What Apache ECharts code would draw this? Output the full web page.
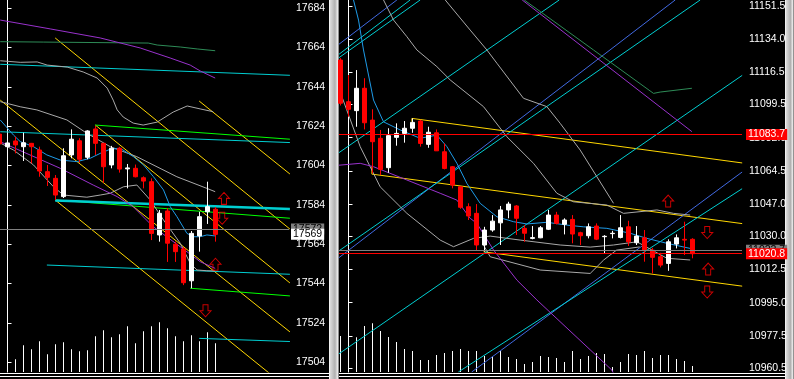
<!DOCTYPE html>
<html><head><meta charset="utf-8">
<script src="https://cdn.jsdelivr.net/npm/echarts@6/dist/echarts.min.js"></script>
<style>html,body{margin:0;padding:0;background:#000;}#c{width:794px;height:379px;}</style>
</head><body><div id="c"></div>
<script>
// ---------- LEFT PANEL DATA ----------
const leftStart = -1; // bar index of first candle
const leftOHLC = [ // [open, close, low, high]
 [17620,17615,17613,17621],[17613.6,17615.5,17612,17617],[17616.5,17614.5,17610.2,17618.7],[17613.6,17615.6,17606.3,17620.7],
 [17615.3,17613.6,17605.1,17615.5],[17611.9,17601.2,17598.3,17613.6],[17600.9,17598,17593.6,17604.3],[17597.5,17589,17586.5,17599.2],
 [17588.2,17609,17587.5,17612.8],[17609.4,17617.4,17607.7,17622.4],[17616.6,17607.2,17605.5,17617.9],[17608.2,17621.6,17607.2,17622],
 [17622.6,17615.3,17609.4,17624.1],[17615.3,17603.4,17595.3,17615.5],[17604.3,17612.8,17602.6,17614],[17612.8,17602.2,17600.4,17613.5],
 [17602.3,17602.8,17592.4,17604.8],[17602.6,17598.3,17598,17604.5],[17597.8,17596.1,17592.4,17598.5],[17595.8,17569.5,17566.1,17597.5],
 [17568.7,17579.7,17565.3,17581.4],[17580.9,17564.5,17555,17582.3],[17564,17560.2,17555,17565.3],[17561.6,17544.4,17543.2,17562.6],
 [17545.4,17569.5,17541.6,17570.7],[17568.2,17578,17560.2,17580.5],[17580.5,17583.1,17574.3,17595.8],[17581.8,17569,17565.3,17582.9]
];
const leftVolStart = 0;
const leftVolume = [167,127,267,227,307,177,277,297,227,207,217,357,417,347,377,457,287,407,457,497,437,357,307,367,307,397,287];
const leftTicks = [17684,17664,17644,17624,17604,17584,17564,17544,17524,17504];
const leftAsk = 17571.7, leftBid = 17569;

const leftMA = [[-0.91,17627.2],[0.75,17619.5],[1.59,17616.2],[3.25,17613.6],[4.92,17609.4],[6.59,17606.8],[8.67,17606.0],[10.34,17607.7],[11.59,17610.2],[12.84,17612.3],[14.09,17612.8],[15.75,17608.5],[17.0,17604.3],[18.25,17598.3],[19.5,17591.6],[20.34,17583.1],[21.18,17578.0],[22.43,17569.5],[23.25,17567.8],[24.09,17567.8],[24.92,17568.7],[25.96,17568.2]];
const leftPurpleFast = [[-0.91,17616.1],[6.59,17602.6],[10.71,17594.1],[13.71,17588.2],[15.71,17583.1],[18.21,17572.9],[21.59,17562.7],[24.09,17555.1],[25.96,17551.7]];
const leftPurpleSlow = [[-0.91,17678.0],[5.34,17673.5],[11.59,17668.9],[16.59,17663.8],[20.34,17658.7],[22.84,17655.1],[24.09,17652.1],[25.96,17648.5]];
const leftDarkGreen = [[-0.91,17667.0],[4.46,17666.8],[17.59,17666.3],[18.71,17665.3],[21.59,17664.3],[23.71,17663.3],[25.96,17662.4]];
const leftBandUp = [[-0.91,17657.3],[1.59,17656.5],[3.71,17656.7],[4.96,17655.1],[7.46,17654.1],[9.46,17651.6],[11.21,17648.5],[12.46,17643.4],[13.21,17637.3],[13.71,17632.3],[14.46,17628.7],[15.71,17625.6],[16.96,17624.6],[18.71,17626.1],[20.71,17631.2],[22.46,17634.3],[24.09,17632.8],[25.71,17631.4]];
const leftBandMid = [[-0.91,17636.5],[1.59,17633.9],[3.67,17632.3],[7.42,17627.2],[9.92,17620.4],[12.84,17613.6],[16.17,17608.5],[21.17,17598.3],[24.92,17592.4],[25.96,17590.7]];
const leftBandLow = [[-0.91,17615.5],[0.75,17611.9],[3.25,17604.3],[5.75,17593.2],[7.0,17589.0],[9.92,17587.9],[11.59,17589.0],[12.84,17589.9],[14.5,17593.2],[16.17,17594.1],[17.84,17586.5],[19.5,17576.3],[21.59,17564.5],[22.84,17554.3],[23.68,17550.9],[24.92,17550.5],[25.96,17550.4]];
const leftYellow = [
 [[5.96,17668.9],[35.3,17571.7]],
 [[10.98,17624.6],[35.3,17544.3]],
 [[23.96,17636.8],[35.3,17599.7]],
 [[-0.91,17637.3],[35.3,17519.4]],
 [[5.96,17586.5],[35.3,17489.9]]
];
const leftGreen = [
 [[10.96,17624.6],[35.3,17617.4]],
 [[5.96,17586.5],[35.3,17577.2]],
 [[22.84,17541.6],[35.3,17537.7]]
];
const leftCyan = [
 [[-0.91,17655.5],[35.3,17649.9]],
 [[-0.91,17621.2],[35.3,17615.7]],
 [[4.92,17553.4],[35.3,17548.7]],
 [[23.96,17516.1],[35.3,17514.5]]
];
const leftCyanThick = [[5.96,17586.2],[35.3,17581.9]];
const leftArrowsUp = [[27.06,17587.3],[26.0,17553.8]];
const leftArrowsDown = [[26.84,17577.2],[24.75,17530.1]];

// ---------- RIGHT PANEL DATA ----------
const rightStart = -1;
const rightOHLC = [
 [11123,11100.2,11099,11124],[11101,11097,11093.1,11115.1],[11096.3,11108.1,11087.8,11117.7],[11108.1,11089.9,11086.4,11113.4],
 [11091.3,11079.9,11063.2,11097],[11081.7,11065.3,11062.3,11086.1],[11066.2,11083.1,11063.5,11087],[11082.2,11084.3,11077.8,11089.6],
 [11084.3,11087,11079.4,11090.8],[11087,11090.1,11084.6,11092.2],[11090.8,11079,11077.3,11091.5],[11078.5,11084.9,11076.7,11087.8],
 [11084.6,11075.1,11075,11086.4],[11074.6,11065.8,11065.3,11079],[11066.7,11057,11055.3,11067.1],[11056.1,11045.3,11044.5,11056.5],
 [11045.6,11040.7,11038.6,11047.4],[11042.1,11025.4,11022.7,11047],[11025.4,11033.3,11021.9,11035],[11033.3,11038,11032.4,11041.2],
 [11037.1,11043.9,11025.4,11046],[11043.9,11047,11039.5,11048.2],[11046,11039.5,11030.7,11046.5],[11034.2,11031.6,11027.1,11035.9],
 [11028.9,11029.3,11028.4,11035.4],[11029.2,11034.5,11029,11035.4],[11033.7,11041.2,11033.3,11043.9],[11041.2,11036.8,11036.3,11042.9],
 [11036.3,11038.6,11031,11039.5],[11038.9,11031.2,11026.3,11041.2],[11031.9,11030.3,11025.4,11032.4],[11030.3,11035,11028.9,11036.8],
 [11035.4,11028.5,11028,11036.8],[11029.8,11030,11020.9,11030.6],[11031.4,11031.6,11028.9,11032.9],[11029.4,11034.5,11028.9,11041.2],
 [11035,11027.1,11024.9,11038.2],[11026.6,11030.1,11025.4,11035.4],[11029.2,11022.7,11016.6,11033.3],[11022.7,11018.9,11010.4,11023.9],
 [11019.2,11014.8,11013.6,11021.3],[11015.7,11027.1,11011.8,11028.4],[11025.9,11029.2,11023.6,11031],[11028.4,11028,11020.1,11037.7],
 [11028.4,11020.8,11018.4,11029]
];
const rightVolStart = -1;
const rightVolume = [360,370,347,460,487,410,350,300,230,210,120,120,170,190,210,230,210,210,160,150,210,150,130,80,100,160,150,140,100,210,130,160,190,180,50,100,180,170,210,140,170,170,130,110,60];
const rightTicks = [11151.5,11134.0,11116.5,11099.5,11082.0,11064.5,11047.0,11030.0,11012.5,10995.0,10977.5,10960.5];
const rightAsk = 11022.7, rightBid = 11020.8, rightLevel = 11083.7;

const rightMA = [[0.3,11160],[0.625,11154.7],[1.25,11144.1],[1.875,11128.3],[3.125,11101.9],[4.375,11090.4],[6.46,11086.1],[8.96,11081.7],[11.05,11083.4],[12.3,11077.3],[13.55,11068.5],[14.8,11057.9],[16.46,11047.4],[18.55,11040.3],[20.625,11037.7],[22.3,11036.5],[24.8,11037.4],[27.3,11035.9],[29.375,11035.0],[32.3,11034.2],[35.21,11031.6],[37.3,11028.9],[39.8,11026.3],[42.71,11023.6],[43,11023.3]];
const rightPurpleFast = [[-1.2,11067.5],[1.46,11068.5],[3.125,11066.7],[7.3,11059.7],[11.46,11052.7],[13.55,11049.1],[15.21,11039.5],[16.05,11036.8],[18.125,11022.8],[21.05,11006.9],[23.55,10996.4],[32.925,10959.4],[33.2,10957]];
const rightPurpleSlow = [[21.71,11154.7],[42.925,11085.2]];
const rightDarkGreen = [[21.96,11154.7],[30.625,11128.3],[38.125,11105.4],[38.96,11106.1],[42.925,11108.1]];
const rightBandUpA = [[4.375,11154.7],[5.625,11144.1],[7.3,11135.3],[8.55,11128.3],[11.05,11119.5],[12.71,11112.5],[16.875,11098.4],[19.8,11082.5],[23.125,11068.5],[26.05,11052.7],[28.125,11048.2],[32.3,11046.5],[34.375,11042.1],[38.55,11043.9],[40.625,11042.1],[42.71,11041.2]];
const rightBandUpB = [[12.09,11154.7],[15.21,11138.8],[17.3,11128.3],[18.55,11121.3],[21.875,11102.8],[24.8,11098.4],[26.46,11089.6],[28.96,11075.5],[31.05,11061.4],[33.125,11047.4]];
const rightBandLow = [[-1.2,11108],[-1.04,11107.2],[1.46,11077.3],[3.96,11056.1],[7.3,11042.1],[11.46,11028.0],[13.125,11024.5],[15.625,11028.9],[17.71,11030.1],[21.46,11028.0],[26.46,11025.4],[30.21,11024.3],[33.125,11025.4],[36.05,11027.1],[39.8,11018.4],[42.71,11017.5]];
const rightBandLowB = [[16.875,11025.4],[17.71,11019.2],[23.96,11012.2],[30.21,11010.4],[31.9,11017.5],[33.5,11022.7],[36.4,11024.4]];
const rightYellow = [
 [[7.925,11090.4],[7.925,11092.2],[49.21,11068.7]],
 [[2.925,11066.7],[2.925,11062.8],[49.21,11036.7]],
 [[16.875,11021.8],[49.21,11003.7]]
];
const rightBlue = [
 [[-1.2,11131.3],[6.05,11154.7]],
 [[-1.2,11018.7],[40.84,11154.7]],
 [[15.4,10958.4],[49.2,11063.9]]
];
const rightCyan = [
 [[-1.2,11126.0],[7.71,11154.7]],
 [[-1.2,11124.2],[8.96,11154.7]],
 [[-1.2,11074.1],[26.34,11154.7]],
 [[-1.2,11022.3],[43.96,11154.7]],
 [[-1.2,10968.0],[49.21,11114.9]],
 [[13.73,10958.4],[49.2,11055.1]]
];
const rightArrowsUp = [[39.96,11048.6],[44.96,11012.7]];
const rightArrowsDown = [[44.84,11032.0],[44.84,11000.6]];

// ---------- BUILD ----------
const FONT = 'Liberation Sans';
const UP = 'path://M5.5,0 L11,6 L8,6 L8,12 L3,12 L3,6 L0,6 Z';
const DOWN = 'path://M3,0 L8,0 L8,6 L11,6 L5.5,12 L0,6 L3,6 Z';
const series = [];
function line(g, pts, color, width, z) {
  series.push({type:'line', xAxisIndex:g, yAxisIndex:g*2, data:pts, symbol:'none', silent:true,
    lineStyle:{color:color, width:width||1}, z:z||2, clip:true, animation:false});
}
function arrows(g, pts, sym) {
  series.push({type:'scatter', xAxisIndex:g, yAxisIndex:g*2, data:pts, symbol:sym, symbolSize:[11,12],
    itemStyle:{color:'rgba(0,0,0,0)', borderColor:'#ff0000', borderWidth:1}, silent:true, z:6, animation:false});
}
function candles(g, start, ohlc, marks) {
  series.push({type:'candlestick', xAxisIndex:g, yAxisIndex:g*2,
    dimensions:['x','open','close','low','high'], encode:{x:0, y:[1,2,3,4]},
    data: ohlc.map((r,i)=>[start+i, r[0], r[1], r[2], r[3]]), barWidth:4,
    itemStyle:{color:'#ffffff', color0:'#ff0000', borderColor:'#ffffff', borderColor0:'#ff0000', borderWidth:1},
    silent:true, z:4, animation:false, markLine: marks});
}
function volumes(g, start, vols) {
  series.push({type:'bar', xAxisIndex:g, yAxisIndex:g*2+1, data: vols.map((v,i)=>[start+i, v]),
    barWidth:1, itemStyle:{color:'#ffffff'}, silent:true, z:1, animation:false});
}
function tag(val, text, bg, fg, lineColor, dist) {
  return {yAxis:val, lineStyle:{color:lineColor, width:1, type:'solid'},
    label:{show:true, position:'end', formatter:text, backgroundColor:bg, color:fg, distance:dist,
      fontSize:10.5, fontFamily:FONT, padding:[1,2,0,2], lineHeight:10}};
}

// left panel lines
leftYellow.forEach(p=>line(0,p,'#ffd700',1));
leftGreen.forEach(p=>line(0,p,'#00ff00',1));
leftCyan.forEach(p=>line(0,p,'#00ced1',1));
line(0,leftCyanThick,'#00ced1',2.5);
line(0,leftDarkGreen,'#2e8b57',1);
line(0,leftPurpleSlow,'#9932cc',1);
line(0,leftBandUp,'#a9a9a9',1);
line(0,leftBandMid,'#a9a9a9',1);
line(0,leftBandLow,'#a9a9a9',1);
line(0,leftPurpleFast,'#9932cc',1);
line(0,leftMA,'#1e9be8',1);
volumes(0,leftVolStart,leftVolume);
candles(0,leftStart,leftOHLC,{symbol:['none','none'], silent:true, animation:false,
  data:[tag(leftAsk,'17572','#808080','#000','#808080',2), tag(leftBid,'17569','#ffffff','#000','rgba(0,0,0,0)',2)]});
arrows(0,leftArrowsUp,UP); arrows(0,leftArrowsDown,DOWN);

// right panel lines
rightYellow.forEach(p=>line(1,p,'#ffd700',1));
rightBlue.forEach(p=>line(1,p,'#4169e1',1));
rightCyan.forEach(p=>line(1,p,'#00ced1',1));
line(1,rightDarkGreen,'#2e8b57',1);
line(1,rightPurpleSlow,'#9932cc',1);
line(1,rightBandUpA,'#a9a9a9',1);
line(1,rightBandUpB,'#a9a9a9',1);
line(1,rightBandLow,'#a9a9a9',1);
line(1,rightBandLowB,'#a9a9a9',1);
line(1,rightPurpleFast,'#9932cc',1);
line(1,rightMA,'#1e9be8',1);
volumes(1,rightVolStart,rightVolume);
candles(1,rightStart,rightOHLC,{symbol:['none','none'], silent:true, animation:false,
  data:[tag(rightLevel,rightLevel.toFixed(1),'#ff0000','#fff','#ff0000',4),
        tag(rightAsk,rightAsk.toFixed(1),'#808080','#000','#808080',4),
        tag(rightBid,rightBid.toFixed(1),'#ff0000','#fff','#ff0000',4)]});
arrows(1,rightArrowsUp,UP); arrows(1,rightArrowsDown,DOWN);

function priceAxis(g, min, max, ticks, fmt) {
  return {gridIndex:g, type:'value', position:'right', min:min, max:max, scale:true,
    axisLine:{show:true, lineStyle:{color:'#ffffff', width:1}},
    axisTick:{show:true, length:4, lineStyle:{color:'#ffffff'}, customValues:ticks},
    axisLabel:{color:'#ffffff', fontSize:10.5, fontFamily:FONT, margin:7, customValues:ticks, formatter:fmt},
    splitLine:{show:false}};
}
const chart = echarts.init(document.getElementById('c'), null, {renderer:'canvas'});
const sepGrad = new echarts.graphic.LinearGradient(0,0,1,0,[
  {offset:0,color:'#ffffff'},{offset:0.15,color:'#d8d8d8'},{offset:0.6,color:'#b0b0b0'},{offset:0.85,color:'#e8e8e8'},{offset:1,color:'#606060'}]);
chart.setOption({
  backgroundColor:'#000000',
  animation:false,
  grid:[{left:0, top:0, width:289, height:372}, {left:339, top:0, width:403, height:372}],
  xAxis:[
    {gridIndex:0, type:'value', min:-0.9375, max:35.1875, show:false},
    {gridIndex:1, type:'value', min:-1.1875, max:49.1875, show:false}
  ],
  yAxis:[
    priceAxis(0, 17499.0, 17688.2, leftTicks, v=>String(v)),
    {gridIndex:0, type:'value', min:0, max:3720, show:false},
    priceAxis(1, 10958.4, 11154.67, rightTicks, v=>v.toFixed(1)),
    {gridIndex:1, type:'value', min:0, max:3720, show:false}
  ],
  series: series,
  graphic:[
    {type:'rect', shape:{x:329,y:0,width:10,height:379}, style:{fill:sepGrad}, silent:true},
    {type:'rect', shape:{x:785,y:0,width:9,height:379}, style:{fill:sepGrad}, silent:true},
    {type:'line', shape:{x1:0,y1:373.5,x2:329,y2:373.5}, style:{stroke:'#ffffff',lineWidth:1}, silent:true},
    {type:'line', shape:{x1:0,y1:376.5,x2:329,y2:376.5}, style:{stroke:'#ffffff',lineWidth:1}, silent:true},
    {type:'line', shape:{x1:339,y1:373.5,x2:785,y2:373.5}, style:{stroke:'#ffffff',lineWidth:1}, silent:true},
    {type:'line', shape:{x1:339,y1:376.5,x2:785,y2:376.5}, style:{stroke:'#ffffff',lineWidth:1}, silent:true}
  ]
});
</script></body></html>
